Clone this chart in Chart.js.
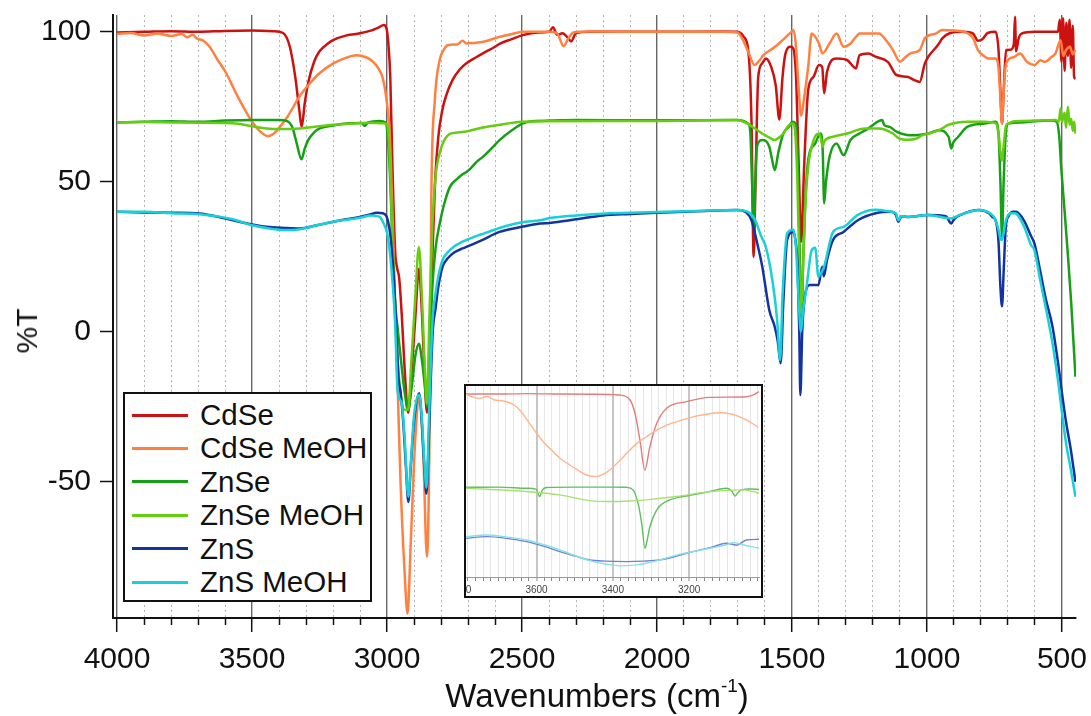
<!DOCTYPE html>
<html lang="es">
<head>
<meta charset="utf-8">
<title>Espectros IR</title>
<script src="https://cdn.jsdelivr.net/npm/chart.js@4.4.0/dist/chart.umd.min.js"></script>
<style>
  html, body { margin: 0; padding: 0; background: #fff; }
  body { font-family: "Liberation Sans", Arial, sans-serif; color: #111; }
  #contenedor { position: relative; width: 1091px; height: 716px; overflow: hidden; }
  #grafico { position: absolute; left: 0; top: 0; }
  .titulo-eje { position: absolute; font-size: 30px; line-height: 30px; white-space: nowrap; }
  #tituloX { left: 597px; top: 679px; font-size: 33px; line-height: 33px; transform: translateX(-50%); }
  #tituloX sup { font-size: 19px; line-height: 0; vertical-align: 0; position: relative; top: -15px; }
  #tituloY { left: 27px; top: 331px; transform: translate(-50%, -50%) rotate(-90deg); }
  #leyenda { position: absolute; left: 123px; top: 392px; width: 245px; height: 206px;
             border: 2px solid #111; background: #fff; }
  .fila { position: absolute; left: 0; height: 34px; line-height: 34px; font-size: 29.5px; white-space: nowrap; }
  .fila .muestra { position: absolute; left: 7px; top: 15.5px; width: 56px; height: 3px; }
  .fila .texto { position: absolute; left: 75px; top: 0; }
  #inserto { position: absolute; left: 464px; top: 384px; width: 295px; height: 210px;
             border: 2px solid #111; background: #fff; overflow: hidden; }
  #graficoInserto { position: absolute; left: -10px; top: 0; }
</style>
</head>
<body>
<div id="contenedor">
  <canvas id="grafico" width="1091" height="716"></canvas>
  <div id="tituloY" class="titulo-eje">%T</div>
  <div id="tituloX" class="titulo-eje">Wavenumbers (cm<sup>-1</sup>)</div>
  <div id="leyenda"></div>
  <div id="inserto"><canvas id="graficoInserto" width="305" height="210"></canvas></div>
</div>

<script>
// ---------- datos: [numero de onda, %T] ----------
const CDSE = [
  [4000, 99.8], [3900, 100], [3800, 100.2], [3700, 100], [3600, 100.3], [3500, 100.4], [3420, 100.2],
  [3385, 99.6], [3360, 95], [3340, 85], [3325, 74], [3316, 68.3], [3305, 76], [3292, 83], [3270, 90],
  [3250, 93.5], [3220, 96], [3200, 97.2], [3150, 98.8], [3100, 99.5], [3060, 100.4], [3030, 101.5],
  [3012, 102.3], [3003, 101.5], [2995, 96], [2988, 85], [2980, 55], [2970, 27], [2962, 21], [2955, 18],
  [2945, 5], [2935, -12], [2922, -27], [2908, -12], [2895, 5], [2882, 21], [2870, 5], [2862, -12],
  [2852, -27], [2842, -5], [2832, 25], [2822, 50], [2810, 65], [2795, 74], [2780, 79], [2757, 84],
  [2730, 87.5], [2706, 89.5], [2670, 91.5], [2645, 92.8], [2600, 95], [2583, 96], [2540, 97.5],
  [2497, 98.9], [2450, 99.7], [2400, 100], [2385, 101.5], [2370, 99], [2350, 99.5], [2330, 98],
  [2318, 96.8], [2300, 99.5], [2250, 100], [2000, 100], [1750, 100.1], [1702, 100], [1680, 98.5],
  [1660, 92], [1650, 70], [1642, 25], [1634, 55], [1625, 85], [1610, 89.5], [1597, 91.1], [1577, 88.3],
  [1560, 82], [1547, 70.8], [1535, 85], [1525, 92.4], [1505, 95], [1495, 94.4], [1485, 85], [1475, 55],
  [1466, 30], [1455, 55], [1440, 80.6], [1420, 85], [1400, 88.9], [1388, 88.3], [1381, 79.5],
  [1370, 86.7], [1335, 91.1], [1296, 90.6], [1263, 87.8], [1250, 92.2], [1217, 92.8], [1191, 91.7],
  [1145, 90], [1113, 85.6], [1073, 85], [1047, 83.9], [1027, 83.3], [1008, 89.4], [995, 91.7],
  [960, 95.5], [943, 97.8], [916, 99.5], [864, 100], [830, 99.5], [811, 97], [795, 97.5], [775, 99.6],
  [746, 100], [735, 93.9], [728, 80], [722, 69.4], [716, 80], [707, 93.9], [690, 94], [678, 96],
  [674, 105], [670, 93.5], [660, 98], [650, 99.4], [600, 100], [550, 100], [515, 100], [508, 104],
  [502, 90], [496, 104.5], [490, 87], [484, 103], [478, 92], [472, 104], [466, 88], [460, 102],
  [455, 85], [450, 84.3]
];

const CDSE_MEOH = [
  [4000, 99.3], [3950, 99.6], [3900, 98.8], [3850, 99.4], [3800, 98.6], [3760, 99.3], [3740, 98.2],
  [3720, 99], [3705, 97.8], [3680, 97], [3657, 95], [3630, 91], [3595, 86.1], [3570, 81.5],
  [3546, 77.2], [3520, 73], [3496, 69.5], [3470, 66.8], [3441, 65.2], [3420, 66], [3397, 68.3],
  [3370, 71.5], [3347, 75], [3320, 79], [3286, 82.8], [3250, 86.2], [3199, 89.5], [3150, 91.4],
  [3113, 92.2], [3080, 91.6], [3051, 90], [3030, 87.5], [3014, 83.9], [3000, 76], [2990, 66],
  [2980, 40], [2970, 10], [2960, -20], [2950, -50], [2935, -80], [2924, -94], [2912, -70],
  [2895, -35], [2880, -22], [2866, -40], [2852, -75], [2842, -30], [2836, 44], [2823, 77],
  [2805, 90.6], [2790, 94], [2773, 95.6], [2740, 95.8], [2720, 97], [2706, 96.1], [2680, 96.3],
  [2643, 96.7], [2583, 98.3], [2540, 99.2], [2497, 100], [2400, 100], [2370, 99.5], [2346, 95.2],
  [2330, 97.5], [2310, 99.8], [2250, 100.1], [2000, 100], [1760, 100], [1702, 99.8], [1680, 97],
  [1658, 92.4], [1639, 88.9], [1620, 90.5], [1606, 92.2], [1570, 94.5], [1541, 96.7], [1502, 100],
  [1495, 100.6], [1485, 95], [1476, 82], [1466, 72], [1455, 78], [1440, 88.3], [1427, 99.4],
  [1400, 96.1], [1387, 92.8], [1361, 96.1], [1335, 99.4], [1309, 95], [1283, 96.1], [1263, 98.3],
  [1250, 99.4], [1178, 99.4], [1150, 97], [1126, 93.9], [1100, 90], [1080, 91.5], [1061, 92.8],
  [1027, 93.9], [1008, 97.8], [968, 99.4], [943, 100.6], [864, 100], [830, 98], [811, 93.9],
  [790, 92], [772, 91.1], [746, 91.1], [735, 88], [728, 78], [722, 69.4], [716, 80], [707, 89.4],
  [680, 91.5], [655, 92.8], [630, 90], [602, 88.9], [580, 90.5], [563, 90], [540, 91.5], [524, 92.8],
  [505, 97.2], [495, 92], [485, 93.9], [470, 95], [460, 92.5], [450, 94]
];

const ZNSE = [
  [4000, 69.8], [3900, 70], [3800, 70.2], [3700, 70], [3600, 70.4], [3500, 70.6], [3400, 70.6],
  [3370, 70.2], [3350, 68], [3335, 63], [3317, 57.5], [3305, 61], [3292, 63.9], [3270, 66.5],
  [3249, 67.8], [3200, 68.8], [3138, 69.5], [3095, 69.6], [3082, 68.6], [3070, 69.8], [3027, 70.3],
  [3005, 69.8], [2995, 62], [2988, 50], [2980, 30], [2970, 10], [2960, 0.5], [2950, -8], [2935, -20],
  [2922, -26], [2908, -18], [2895, -8], [2882, -4], [2870, -10], [2860, -18], [2852, -25], [2842, -5],
  [2832, 15], [2820, 28], [2805, 36], [2790, 42], [2767, 48.3], [2740, 51], [2720, 52.5], [2706, 53.3],
  [2690, 54.5], [2670, 56.5], [2645, 58.3], [2620, 60.5], [2583, 63.9], [2540, 67], [2497, 69.5],
  [2450, 70.3], [2400, 70.4], [2300, 70.6], [2000, 70.5], [1702, 70.6], [1662, 69.4], [1654, 66],
  [1648, 50], [1641, 35], [1636, 48], [1630, 61.7], [1610, 63.9], [1584, 61.7], [1575, 58],
  [1564, 53.9], [1550, 60], [1532, 66.1], [1510, 68.5], [1499, 70], [1486, 69.4], [1478, 55],
  [1470, 20], [1465, 4], [1458, 25], [1450, 45], [1440, 57.2], [1414, 62.8], [1394, 66.1], [1386, 60],
  [1381, 42.8], [1374, 50], [1361, 58.3], [1335, 62.8], [1309, 58.9], [1283, 64], [1250, 66.1],
  [1217, 67.8], [1184, 70], [1166, 70.6], [1158, 68.9], [1138, 68.3], [1113, 66.7], [1061, 65.5],
  [1031, 65.6], [995, 66.1], [956, 67.2], [920, 65], [910, 61.1], [903, 63], [884, 65], [851, 68.3],
  [786, 69.4], [746, 70], [735, 66], [728, 50], [722, 31.5], [716, 50], [708, 66], [699, 69.4],
  [650, 69.8], [600, 70.2], [540, 70.4], [520, 70], [510, 65], [503, 55], [490, 40], [480, 28],
  [466, 10], [450, -15]
];

const ZNSE_MEOH = [
  [4000, 69.8], [3900, 69.9], [3800, 69.8], [3700, 69.7], [3571, 69.5], [3500, 68.5], [3446, 67.8],
  [3400, 67.6], [3323, 67.8], [3250, 68.5], [3199, 69], [3130, 69.4], [3075, 69.7], [3014, 69.5],
  [3000, 69], [2992, 62], [2985, 45], [2978, 25], [2970, 5], [2960, -10], [2950, -20], [2935, -26],
  [2922, -26], [2910, -10], [2895, 12], [2882, 28.3], [2870, 10], [2860, -12], [2852, -24], [2843, 5],
  [2832, 35], [2820, 52], [2805, 59.5], [2790, 63.5], [2767, 66], [2740, 66.4], [2706, 66.8],
  [2650, 68], [2583, 69], [2500, 70], [2400, 70.2], [2000, 70.3], [1702, 70.6], [1658, 69],
  [1630, 67.3], [1610, 66.1], [1585, 64.8], [1564, 63.9], [1545, 65], [1532, 66.1], [1515, 68.5],
  [1499, 69.4], [1490, 68], [1480, 50], [1472, 20], [1466, 6], [1460, 20], [1452, 40], [1440, 55],
  [1420, 63.9], [1400, 66.1], [1392, 64], [1387, 61.7], [1380, 63.5], [1348, 65], [1296, 66.1],
  [1230, 67.8], [1178, 67.8], [1126, 66.1], [1104, 64.5], [1067, 64], [1040, 64.4], [1018, 65.5],
  [995, 66.1], [950, 67.5], [920, 69], [850, 70], [785, 70], [745, 69.5], [735, 66], [728, 60],
  [722, 57], [716, 62], [708, 68.5], [699, 69.4], [676, 70.2], [600, 70.4], [524, 70.6], [512, 70],
  [505, 74.5], [500, 70], [495, 71.7], [490, 73], [485, 68], [478, 75], [472, 69], [466, 71],
  [460, 67], [455, 70], [450, 66.1]
];

const ZNS = [
  [4000, 40], [3900, 39.8], [3800, 39.7], [3694, 39.4], [3620, 38.2], [3571, 37.2], [3500, 35.8],
  [3446, 35], [3380, 34.6], [3323, 34.4], [3260, 35.5], [3199, 36.7], [3150, 37.5], [3101, 38.3],
  [3060, 39.2], [3039, 39.7], [3015, 39.5], [3002, 38.5], [2992, 35], [2985, 30], [2975, 18],
  [2965, 0], [2958, -15], [2950, -20], [2940, -30], [2930, -45], [2921, -56.7], [2912, -45],
  [2900, -30], [2881, -20.5], [2870, -32], [2862, -45], [2854, -54], [2845, -35], [2831, -0.5],
  [2820, 8], [2810, 15], [2794, 21.7], [2775, 24.5], [2750, 26.5], [2720, 27.8], [2706, 28.3],
  [2650, 30.5], [2583, 33.3], [2500, 35], [2434, 36.1], [2398, 36.3], [2300, 37.5], [2200, 38.8],
  [2100, 39.3], [2001, 39.7], [1850, 40.2], [1701, 40.6], [1670, 39.8], [1650, 37.2], [1630, 30],
  [1610, 21.7], [1584, 7.2], [1564, 1.7], [1553, -3], [1542, -10.5], [1532, 10], [1518, 30.6],
  [1495, 33.3], [1485, 29], [1479, 21.7], [1473, 0], [1469, -21.1], [1462, 0], [1454, 10.6],
  [1434, 15.6], [1402, 15.6], [1388, 21.7], [1382, 18.5], [1370, 24], [1348, 30.6], [1309, 33.3],
  [1256, 37.2], [1190, 39.5], [1132, 40], [1115, 39], [1106, 36.7], [1095, 38.5], [1073, 38.3],
  [995, 38.9], [930, 38.5], [910, 36.1], [900, 37.5], [877, 38.9], [806, 40.6], [770, 39.5],
  [757, 38.2], [746, 37.2], [735, 30], [728, 15], [722, 8.5], [716, 20], [708, 35], [698, 38.5],
  [680, 40], [670, 40], [640, 37], [615, 32], [602, 29.5], [580, 20], [560, 11], [535, 1.7],
  [515, -10], [498, -21.7], [485, -30], [467, -39.4], [458, -45], [450, -50]
];

const ZNS_MEOH = [
  [4000, 40], [3900, 40], [3800, 39.5], [3694, 39.2], [3571, 37.5], [3500, 35.5], [3446, 34.6],
  [3373, 33.9], [3323, 34.2], [3260, 35.5], [3199, 36.7], [3101, 38], [3060, 38.8], [3027, 38.3],
  [3012, 36], [3000, 33], [2990, 27], [2980, 17], [2970, 3], [2962, -18], [2955, -22], [2945, -24],
  [2935, -35], [2921, -55], [2912, -44], [2900, -28], [2881, -21], [2870, -30], [2862, -43],
  [2854, -52], [2845, -30], [2832, 3], [2820, 13], [2810, 18.5], [2794, 24], [2775, 26.5],
  [2750, 28.5], [2706, 30.6], [2650, 32.5], [2583, 34.6], [2500, 36.5], [2434, 37.2], [2398, 37.9],
  [2300, 38.8], [2173, 39.5], [2001, 39.9], [1850, 40.3], [1701, 40.6], [1660, 39.8], [1636, 37.2],
  [1615, 32], [1597, 28.3], [1571, 16.2], [1555, 4], [1544, -9.4], [1535, 12], [1518, 32.8],
  [1495, 34], [1485, 28], [1475, 10], [1467, 0], [1460, 6], [1446, 15], [1427, 27.2], [1414, 28],
  [1402, 18.3], [1396, 19], [1388, 20.3], [1380, 22], [1348, 33.3], [1309, 35], [1256, 39],
  [1190, 40.7], [1132, 40], [1115, 39.5], [1106, 37.2], [1095, 38.6], [1073, 38.3], [995, 38.9],
  [910, 37.8], [877, 39], [806, 40.6], [757, 38.8], [746, 37.2], [735, 34], [728, 31], [722, 30.6],
  [716, 33], [708, 37], [690, 39.5], [674, 39.5], [640, 35], [615, 29], [602, 27.2], [580, 17],
  [560, 8], [535, -3.8], [515, -16], [498, -28.3], [485, -37], [467, -46], [450, -55]
];

// ---------- datos del recuadro (zona 3800-3000 ampliada) ----------
const INSET_CDSE = [
  [3785, 100], [3700, 100], [3626, 100.2], [3539, 100], [3450, 99.9], [3382, 99.6], [3355, 97.5],
  [3342, 91.9], [3329, 80.6], [3316, 68], [3303, 77.8], [3285, 87.7], [3259, 94], [3207, 96.8],
  [3146, 98.6], [3050, 98.9], [3030, 99.8], [3017, 101]
];
const INSET_CDSE_MEOH = [
  [3785, 100], [3765, 98.6], [3748, 98.2], [3730, 99], [3710, 97.5], [3690, 97.2], [3679, 96.8],
  [3660, 95.5], [3644, 93.3], [3620, 88], [3600, 83.5], [3580, 79.5], [3556, 75.7], [3535, 72.5],
  [3513, 70.1], [3490, 67.8], [3469, 65.9], [3443, 65.2], [3425, 66.2], [3408, 68], [3385, 71.5],
  [3364, 75], [3340, 78.8], [3312, 82], [3285, 84.8], [3259, 86.9], [3220, 89], [3190, 90.4],
  [3150, 91.6], [3120, 92.1], [3090, 91.6], [3067, 90.4], [3040, 88.2], [3019, 86]
];
const INSET_ZNSE = [
  [3785, 60.7], [3700, 60.8], [3626, 60.3], [3600, 59.8], [3592, 56.8], [3585, 59.5], [3574, 60.6],
  [3500, 60.8], [3400, 60.8], [3364, 60.7], [3347, 59.6], [3334, 54], [3324, 45], [3316, 35],
  [3310, 38.5], [3303, 44.1], [3285, 51.2], [3270, 53.8], [3251, 55.4], [3220, 56.7], [3190, 57.5],
  [3150, 58.8], [3102, 60.3], [3088, 59], [3080, 57], [3072, 58.5], [3063, 59.6], [3040, 60],
  [3017, 59.8]
];
const INSET_ZNSE_MEOH = [
  [3785, 60.3], [3720, 59.8], [3626, 58.9], [3539, 57.5], [3461, 55.1], [3399, 54.7], [3350, 55],
  [3312, 55.4], [3233, 56.8], [3146, 58.9], [3058, 59.6], [3030, 58.8], [3017, 58.2]
];
const INSET_ZNS = [
  [3785, 39.2], [3731, 39.9], [3680, 39.2], [3626, 37.8], [3580, 35.8], [3539, 33.6], [3500, 31.8],
  [3461, 30.1], [3420, 29.6], [3364, 29.4], [3320, 29.6], [3277, 30.1], [3230, 31.8], [3190, 33.6],
  [3140, 35.5], [3102, 37.1], [3085, 36.6], [3076, 36.3], [3050, 38.5], [3017, 38.8]
];
const INSET_ZNS_MEOH = [
  [3785, 39.9], [3731, 40.6], [3680, 39.8], [3626, 38.5], [3580, 36.5], [3539, 34.3], [3500, 32],
  [3461, 29.8], [3420, 28.4], [3382, 27.6], [3340, 28], [3312, 28.7], [3270, 30.4], [3233, 32.1],
  [3190, 33.6], [3146, 35], [3100, 36.6], [3085, 37.4], [3060, 36.5], [3040, 35.8], [3017, 35]
];

// ---------- etiquetas y marcas de los ejes ----------
const NOMBRES = ['CdSe', 'CdSe MeOH', 'ZnSe', 'ZnSe MeOH', 'ZnS', 'ZnS MeOH'];
const COLORES = ['#cc1111', '#ff8040', '#17a017', '#66cc11', '#1433a0', '#18d0d8'];
const COLORES_INSERTO = ['#e27d7d', '#ffb58c', '#5fbf5f', '#a8e070', '#7082d2', '#86e2ea'];
const TICKS_X = [4000, 3500, 3000, 2500, 2000, 1500, 1000, 500];
const TICKS_Y = [-50, 0, 50, 100];
const TICKS_INSERTO = [3800, 3600, 3400, 3200];

const FUENTE = '"Liberation Sans", Arial, sans-serif';
Chart.defaults.font.family = FUENTE;
Chart.defaults.color = '#111';

function aPuntos(pares) {
  return pares.map(([x, y]) => ({ x: x, y: y }));
}

// marcas menores cada 100 (y cada 20 en el recuadro)
function marcas(desde, hasta, paso) {
  const lista = [];
  for (let v = desde; v <= hasta; v += paso) lista.push({ value: v });
  return lista;
}

// quitar el relleno automatico que Chart.js deja para las etiquetas
function fijarTamano(s, ancho, alto) {
  if (ancho !== null) s.width = ancho;
  if (alto !== null) s.height = alto;
  s.paddingTop = 0;
  s.paddingBottom = 0;
  s.paddingLeft = 0;
  s.paddingRight = 0;
}

const esMayor = ctx => !!ctx.tick && ctx.tick.value % 500 === 0;
const esMayorInserto = ctx => !!ctx.tick && ctx.tick.value % 200 === 0;

// ---------- grafico principal ----------
const datosPrincipal = [CDSE, CDSE_MEOH, ZNSE, ZNSE_MEOH, ZNS, ZNS_MEOH];

const grafico = new Chart(document.getElementById('grafico'), {
  type: 'line',
  data: {
    datasets: datosPrincipal.map((serie, i) => ({
      label: NOMBRES[i],
      data: aPuntos(serie),
      borderColor: COLORES[i],
      backgroundColor: COLORES[i],
      borderWidth: 2.5,
      pointRadius: 0,
      fill: false,
      cubicInterpolationMode: 'monotone',
      order: datosPrincipal.length - i
    }))
  },
  options: {
    responsive: false,
    animation: false,
    devicePixelRatio: 1,
    layout: { padding: { left: 0, right: 15, top: 15, bottom: 0 }, autoPadding: false },
    plugins: { legend: { display: false }, tooltip: { enabled: false } },
    scales: {
      x: {
        type: 'linear',
        reverse: true,
        bounds: 'data',
        min: 448,
        max: 4015,
        afterBuildTicks: s => { s.ticks = marcas(500, 4000, 100); },
        afterFit: s => fijarTamano(s, null, 98),
        ticks: {
          autoSkip: false,
          maxRotation: 0,
          padding: 10,
          color: '#111',
          font: { size: 30, family: FUENTE },
          callback: v => TICKS_X.includes(v) ? String(v) : ''
        },
        grid: {
          color: ctx => esMayor(ctx) ? '#666' : '#b4b4b4',
          lineWidth: ctx => esMayor(ctx) ? 1.4 : 1,
          tickLength: 14,
          tickColor: '#111',
          tickWidth: 1.5,
          tickBorderDash: ctx => esMayor(ctx) ? [] : [6, 40]
        },
        border: { display: true, color: '#111', width: 2, dash: ctx => esMayor(ctx) ? [] : [2, 3] }
      },
      y: {
        type: 'linear',
        bounds: 'data',
        min: -95.4,
        max: 105.6,
        afterBuildTicks: s => { s.ticks = TICKS_Y.map(v => ({ value: v })); },
        afterFit: s => fijarTamano(s, 113, null),
        ticks: { padding: 9, color: '#111', font: { size: 30, family: FUENTE } },
        grid: { drawOnChartArea: false, tickLength: 13, tickColor: '#111', tickWidth: 1.5 },
        border: { display: true, color: '#111', width: 2 }
      }
    }
  }
});

// ---------- leyenda (caja dentro del area) ----------
const leyenda = document.getElementById('leyenda');
leyenda.innerHTML = grafico.data.datasets.map((d, i) => `
  <div class="fila" style="top:${4 + i * 33.4}px">
    <span class="muestra" style="background:${d.borderColor}"></span>
    <span class="texto">${d.label}</span>
  </div>
`).join('');

// ---------- recuadro ampliado ----------
const datosInserto = [INSET_CDSE, INSET_CDSE_MEOH, INSET_ZNSE, INSET_ZNSE_MEOH, INSET_ZNS, INSET_ZNS_MEOH];

new Chart(document.getElementById('graficoInserto'), {
  type: 'line',
  data: {
    datasets: datosInserto.map((serie, i) => ({
      label: NOMBRES[i],
      data: aPuntos(serie),
      borderColor: COLORES_INSERTO[i],
      borderWidth: 1.4,
      pointRadius: 0,
      fill: false,
      cubicInterpolationMode: 'monotone',
      order: datosInserto.length - i
    }))
  },
  options: {
    responsive: false,
    animation: false,
    devicePixelRatio: 1,
    layout: { padding: { left: 0, right: 2, top: 0, bottom: 0 }, autoPadding: false },
    plugins: { legend: { display: false }, tooltip: { enabled: false } },
    scales: {
      x: {
        type: 'linear',
        reverse: true,
        bounds: 'data',
        min: 3017,
        max: 3811,
        afterBuildTicks: s => { s.ticks = marcas(3020, 3800, 20); },
        afterFit: s => fijarTamano(s, null, 19),
        ticks: {
          autoSkip: false,
          maxRotation: 0,
          padding: 3,
          color: '#444',
          font: { size: 10, family: FUENTE },
          callback: v => TICKS_INSERTO.includes(v) ? String(v) : ''
        },
        grid: {
          color: ctx => esMayorInserto(ctx) ? '#c6c6c6' : '#e6e6e6',
          lineWidth: ctx => esMayorInserto(ctx) ? 2 : 1,
          tickLength: 4,
          tickColor: '#888',
          tickWidth: 1
        },
        border: { display: true, color: '#999', width: 1 }
      },
      y: { display: false, min: 22.9, max: 103.4 }
    }
  }
});
</script>
</body>
</html>
